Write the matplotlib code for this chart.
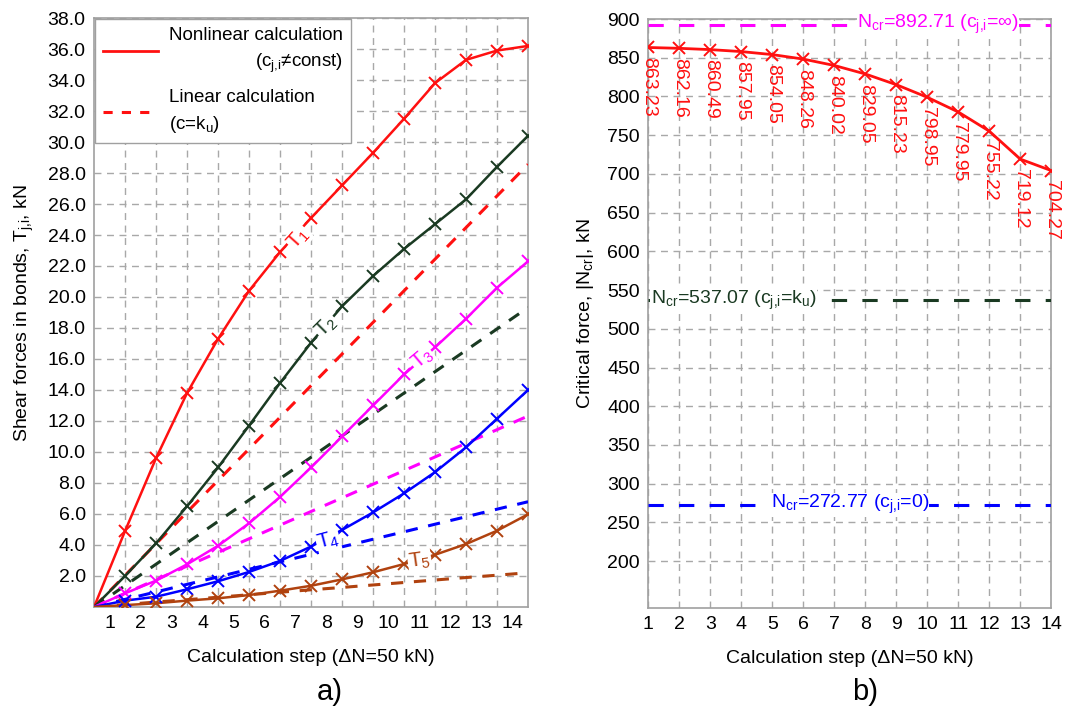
import matplotlib
matplotlib.use("Agg")
import matplotlib.pyplot as plt
from matplotlib.lines import Line2D

plt.rcParams['font.family'] = ['Liberation Sans', 'DejaVu Sans']
plt.rcParams['mathtext.default'] = 'regular'

# ---- data ----
steps = [1, 2, 3, 4, 5, 6, 7, 8, 9, 10, 11, 12, 13, 14]

# shear forces T_j,i (kN), nonlinear calculation
t1_nonlin = [4.9, 9.6, 13.8, 17.3, 20.4, 22.9, 25.1, 27.2, 29.3, 31.5, 33.8, 35.3, 35.9, 36.2]
t2_nonlin = [2.0, 4.1, 6.5, 9.0, 11.7, 14.45, 17.05, 19.4, 21.35, 23.1, 24.7, 26.3, 28.4, 30.4]
t3_nonlin = [0.88, 1.7, 2.75, 3.95, 5.4, 7.1, 9.0, 11.0, 13.0, 15.0, 16.75, 18.6, 20.6, 22.3]
t4_nonlin = [0.41, 0.66, 1.14, 1.66, 2.26, 2.97, 3.9, 4.97, 6.1, 7.33, 8.7, 10.3, 12.15, 14.0]
t5_nonlin = [0.12, 0.24, 0.41, 0.56, 0.77, 1.05, 1.37, 1.78, 2.24, 2.77, 3.37, 4.06, 4.92, 5.98]

# shear forces, linear calculation (c=k_u)
t1_lin = [2.04, 4.08, 6.12, 8.16, 10.2, 12.24, 14.28, 16.32, 18.36, 20.4, 22.44, 24.48, 26.52, 28.56]
t2_lin = [1.38, 2.76, 4.14, 5.52, 6.9, 8.28, 9.66, 11.04, 12.42, 13.8, 15.18, 16.56, 17.94, 19.32]
t3_lin = [0.88, 1.76, 2.64, 3.52, 4.4, 5.28, 6.16, 7.04, 7.92, 8.8, 9.68, 10.56, 11.44, 12.32]
t4_lin = [0.49, 0.97, 1.46, 1.94, 2.43, 2.91, 3.40, 3.88, 4.37, 4.85, 5.34, 5.82, 6.31, 6.79]
t5_lin = [0.16, 0.32, 0.47, 0.63, 0.79, 0.95, 1.11, 1.26, 1.42, 1.58, 1.74, 1.90, 2.05, 2.21]

# critical force |N_cr| (kN)
n_cr = [863.23, 862.16, 860.49, 857.95, 854.05, 848.26, 840.02, 829.05,
        815.23, 798.95, 779.95, 755.22, 719.12, 704.27]
n_cr_inf = 892.71
n_cr_ku = 537.07
n_cr_zero = 272.77

RED = '#ff1010'
GREEN = '#1a3a22'
MAGENTA = '#ff00ff'
BLUE = '#0000ff'
BROWN = '#b0420f'
GRID = '#a8a8a8'
SPINE = '#a0a0a0'

series = [
    (t1_nonlin, t1_lin, RED, r'T$_{1}$', 6.6, 23.8, 48),
    (t2_nonlin, t2_lin, GREEN, r'T$_{2}$', 7.5, 18.1, 45),
    (t3_nonlin, t3_lin, MAGENTA, r'T$_{3}$', 10.6, 16.0, 40),
    (t4_nonlin, t4_lin, BLUE, r'T$_{4}$', 7.55, 4.25, 15),
    (t5_nonlin, t5_lin, BROWN, r'T$_{5}$', 10.5, 3.0, 8),
]

fig = plt.figure(figsize=(10.65, 7.12), dpi=100)
ax1 = fig.add_axes([0.0883, 0.1475, 0.4075, 0.8272])
ax2 = fig.add_axes([0.6087, 0.1466, 0.3784, 0.8267])

# ---- a) shear forces ----
xs = [0] + steps
for nonlin, lin, color, name, lx, ly, rot in series:
    ax1.plot(xs, [0] + lin, color=color, lw=2.2, dashes=(4, 3.5), zorder=3)
for nonlin, lin, color, name, lx, ly, rot in series:
    ax1.plot(xs, [0] + nonlin, color=color, lw=1.8, zorder=4)
    ax1.plot(steps, nonlin, ls='none', marker='x', ms=9, mew=1.4, color=color, zorder=5)
    ax1.text(lx, ly, name, color=color, fontsize=15, rotation=rot,
             ha='center', va='center', rotation_mode='anchor', zorder=6,
             bbox=dict(facecolor='white', edgecolor='none', pad=0.5))

ax1.set_xlim(0, 14)
ax1.set_ylim(0, 38)
ax1.set_xticks([s - 0.5 for s in steps])
ax1.set_xticklabels([str(s) for s in steps])
ax1.set_xticks(steps[:-1], minor=True)
ax1.set_yticks([2 * k for k in range(1, 20)])
ax1.set_yticklabels(['%.1f' % (2 * k) for k in range(1, 20)])
ax1.grid(True, which='minor', axis='x', color=GRID, ls=(0, (5, 4)), lw=1)
ax1.grid(True, which='major', axis='y', color=GRID, ls=(0, (5, 4)), lw=1)
ax1.tick_params(which='both', length=0, labelsize=14, pad=6)
ax1.set_xlabel('Calculation step (ΔN=50 kN)', fontsize=14, labelpad=12)
ax1.set_ylabel(r'Shear forces in bonds, T$_{j{,}i}$, kN', fontsize=14, labelpad=8)

handles = [Line2D([], [], color=RED, lw=2),
           Line2D([], [], color=RED, lw=2.2, dashes=(3, 3))]
labels = ['Nonlinear calculation\n' + r'(c$_{j{,}i}$≠const)',
          'Linear calculation\n' + r'(c=k$_{u}$)']
leg = ax1.legend(handles, labels, loc='upper left', bbox_to_anchor=(0.0, 1.0),
                 fontsize=13.5, handlelength=2.9, handletextpad=0.6,
                 borderaxespad=0.05, borderpad=0.45,
                 fancybox=False, framealpha=1, edgecolor=SPINE, labelspacing=0.75)
for t in leg.get_texts():
    t.set_linespacing(1.5)
leg.get_texts()[0].set_multialignment('right')
leg.get_texts()[1].set_multialignment('left')
leg.set_zorder(10)

# ---- b) critical force ----
ax2.plot(steps, n_cr, color=RED, lw=2, marker='x', ms=9, mew=1.4, zorder=4)
for s, v in zip(steps, n_cr):
    ax2.annotate('%.2f' % v, (s, v), xytext=(0, -7), textcoords='offset points',
                 rotation=270, ha='center', va='top', fontsize=14, color=RED,
                 annotation_clip=False, zorder=5)

hlines = [
    (n_cr_inf, MAGENTA, r'N$_{cr}$=892.71 (c$_{j{,}i}$=∞)', 10.35),
    (n_cr_ku, GREEN, r'N$_{cr}$=537.07 (c$_{j{,}i}$=k$_{u}$)', 3.76),
    (n_cr_zero, BLUE, r'N$_{cr}$=272.77 (c$_{j{,}i}$=0)', 7.5),
]
for val, color, text, tx in hlines:
    ax2.axhline(val, color=color, lw=2.2, dashes=(5, 5), zorder=3)
    ax2.text(tx, val, text, color=color, fontsize=14, ha='center', va='center',
             zorder=6, bbox=dict(facecolor='white', edgecolor='none', pad=0.3))

ax2.set_xlim(1, 14)
ax2.set_ylim(140, 900)
ax2.set_xticks(steps)
ax2.set_yticks(list(range(200, 901, 50)))
ax2.grid(True, color=GRID, ls=(0, (5, 4)), lw=1)
ax2.tick_params(length=0, labelsize=14, pad=6)
ax2.set_xlabel('Calculation step (ΔN=50 kN)', fontsize=14, labelpad=12)
ax2.set_ylabel(r'Critical force, |N$_{cr}$|, kN', fontsize=14, labelpad=8)

for ax in (ax1, ax2):
    ax.set_axisbelow(True)
    for sp in ax.spines.values():
        sp.set_color(SPINE)
        sp.set_linewidth(1.2)

fig.text(0.31, 0.028, 'a)', fontsize=21, ha='center', va='center')
fig.text(0.812, 0.028, 'b)', fontsize=21, ha='center', va='center')

fig.savefig('out.png', dpi=100)
